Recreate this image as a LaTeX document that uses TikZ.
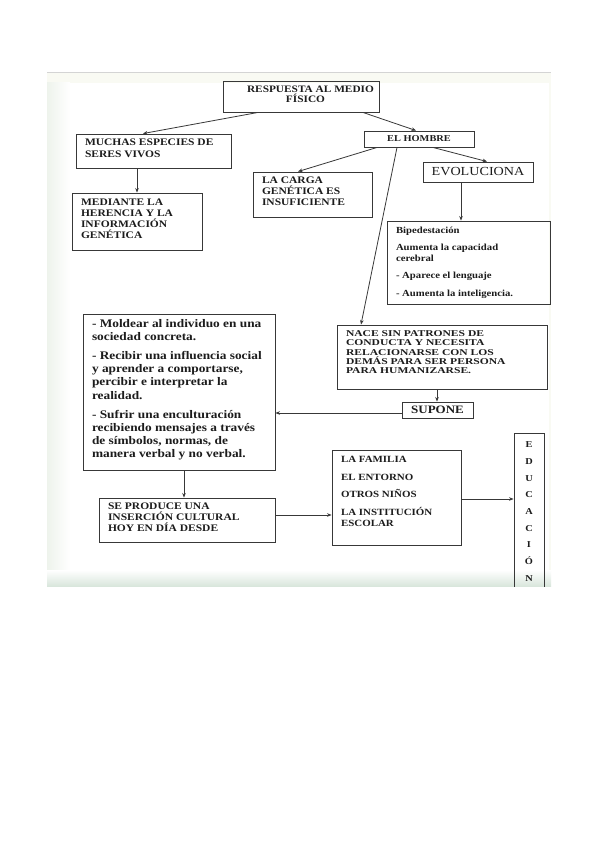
\documentclass[tikz,border=0pt]{standalone}
\usepackage{fontspec}
\setmainfont{Liberation Serif}[FakeStretch=1.15]
\newfontfamily\widefont{Liberation Serif}[FakeStretch=1.3]
\usetikzlibrary{arrows.meta,calc}
\definecolor{framebg}{HTML}{F9FAF3}
\definecolor{shadeL}{HTML}{EEF3EC}
\definecolor{shadeB}{HTML}{D9E6DC}
\definecolor{topline}{HTML}{D4D4D4}
\definecolor{lineg}{HTML}{383838}
\definecolor{txt}{HTML}{1C1C1C}
% #1 text width, #2 box height, #3 first baseline from top, #4 text
\newcommand{\bxt}[4]{\parbox[c][#2][t]{#1}{\raggedright\rule{0pt}{#3}#4}}
\newcommand{\bxc}[4]{\parbox[c][#2][t]{#1}{\centering\rule{0pt}{#3}#4}}
\begin{document}
\begin{tikzpicture}[x=1pt,y=-1pt,
  box/.style={draw=lineg, line width=0.9pt, text=txt, inner sep=0pt},
  lbox/.style={box, inner xsep=9pt, inner ysep=0pt},
  capsA/.style={font=\bfseries\fontsize{10}{#1}\selectfont},
  arr/.style={draw=lineg, line width=0.8pt, -{Stealth[length=4.5pt,width=3.6pt]}}
]
\useasboundingbox (0,0) rectangle (599,848);
\fill[white] (0,0) rectangle (599,848);
% frame of the picture
\fill[framebg] (47,72) rectangle (551,586);
\shade[left color=shadeL, right color=white] (47,83) rectangle (70,586);
\fill[white] (70,83) rectangle (549,570);
\shade[top color=white, bottom color=shadeB] (47,570) rectangle (551,586);
\draw[topline, line width=1.5pt] (47,72.75) -- (551,72.75);

\begin{scope}
\clip (47,72) rectangle (551,586);
% nodes
\node[box, font=\bfseries\fontsize{9.85}{10.5}\selectfont] (top) at (301,96.5)
  {\bxc{156pt}{31pt}{11.5pt}{\hspace*{19pt}RESPUESTA AL MEDIO\\\hspace*{9pt}FÍSICO}};
\node[lbox, capsA=12] (muchas) at (153.5,151)
  {\bxt{137pt}{34pt}{11.8pt}{MUCHAS ESPECIES DE\\SERES VIVOS}};
\node[box, minimum width=110pt, minimum height=16pt, font=\bfseries\fontsize{9}{10}\selectfont] (hombre) at (419,139)
  {EL HOMBRE};
\node[box, minimum width=110pt, minimum height=20pt, font=\fontsize{12.3}{13}\selectfont] (evol) at (478,172)
  {EVOLUCIONA};
\node[lbox, capsA=11.2] (carga) at (312.5,194.5)
  {\bxt{101pt}{45pt}{11.5pt}{LA CARGA\\GENÉTICA ES\\INSUFICIENTE}};
\node[lbox, capsA=10.9] (mediante) at (137,221.5)
  {\bxt{112pt}{57pt}{12.8pt}{MEDIANTE LA\\HERENCIA Y LA\\INFORMACIÓN\\GENÉTICA}};
\node[lbox, font=\bfseries\fontsize{9.3}{10.3}\selectfont] (biped) at (468.5,262.5)
  {\bxt{145pt}{83pt}{12pt}{Bipedestación\\[7.5pt]Aumenta la capacidad\\cerebral\\[7.5pt]- Aparece el lenguaje\\[7.5pt]- Aumenta la inteligencia.}};
\node[lbox, font=\bfseries\fontsize{11.6}{13.2}\selectfont] (moldear) at (179,392)
  {\bxt{174pt}{156pt}{13pt}{- Moldear al individuo en una\\sociedad concreta.\\[6pt]- Recibir una influencia social\\y aprender a comportarse,\\percibir e interpretar la\\realidad.\\[6pt]- Sufrir una enculturación\\recibiendo mensajes a través\\de símbolos, normas, de\\manera verbal y no verbal.}};
\node[lbox, font=\widefont\bfseries\fontsize{8.9}{9.35}\selectfont] (nace) at (442,357)
  {\bxt{192pt}{64pt}{11.5pt}{NACE SIN PATRONES DE\\CONDUCTA Y NECESITA\\RELACIONARSE CON LOS\\DEMÁS PARA SER PERSONA\\PARA HUMANIZARSE.}};
\node[box, minimum width=71pt, minimum height=16pt, font=\bfseries\fontsize{11.3}{12}\selectfont] (supone) at (437.5,410)
  {SUPONE};
\node[box, minimum width=30pt, minimum height=157pt, align=center, font=\bfseries\fontsize{9}{16.7}\selectfont] (educ) at (529,511.5)
  {E\\D\\U\\C\\A\\C\\I\\Ó\\N};
\node[lbox, capsA=10.8] (produce) at (187,520)
  {\bxt{158pt}{44pt}{11.5pt}{SE PRODUCE UNA\\INSERCIÓN CULTURAL\\HOY EN DÍA DESDE}};
\node[lbox, font=\bfseries\fontsize{9.5}{11}\selectfont] (familia) at (396.5,497.5)
  {\bxt{111pt}{95pt}{12.5pt}{LA FAMILIA\\[6.7pt]EL ENTORNO\\[6.7pt]OTROS NIÑOS\\[6.7pt]LA INSTITUCIÓN\\ESCOLAR}};

% connectors
\draw[arr] ([xshift=-43pt]top.south) -- ([xshift=-10.5pt]muchas.north);
\draw[arr] ([xshift=62pt]top.south) -- ([xshift=-3pt]hombre.north);
\draw[arr] ([xshift=-42pt]hombre.south) -- ([xshift=-14.5pt]carga.north);
\draw[arr] ([xshift=-22pt]hombre.south) -- ([xshift=-81pt]nace.north);
\draw[arr] ([xshift=14pt]hombre.south) -- ([xshift=9pt]evol.north);
\draw[arr] ([xshift=-16.5pt]muchas.south) -- (mediante.north);
\coordinate (e7) at ([xshift=-17pt]evol.south);
\draw[arr] (e7) -- (e7 |- biped.north);
\coordinate (e8) at ([xshift=-5pt]nace.south);
\draw[arr] (e8) -- (e8 |- supone.north);
\coordinate (e9) at ([yshift=-3pt]supone.west);
\draw[arr] (e9) -- (e9 -| moldear.east);
\coordinate (e10) at ([xshift=5pt]moldear.south);
\draw[arr] (e10) -- (e10 |- produce.north);
\coordinate (e11) at ([yshift=5pt]produce.east);
\draw[arr] (e11) -- (e11 -| familia.west);
\coordinate (e12) at ([yshift=-1.5pt]familia.east);
\draw[arr] (e12) -- (e12 -| educ.west);
\end{scope}
\end{tikzpicture}
\end{document}
